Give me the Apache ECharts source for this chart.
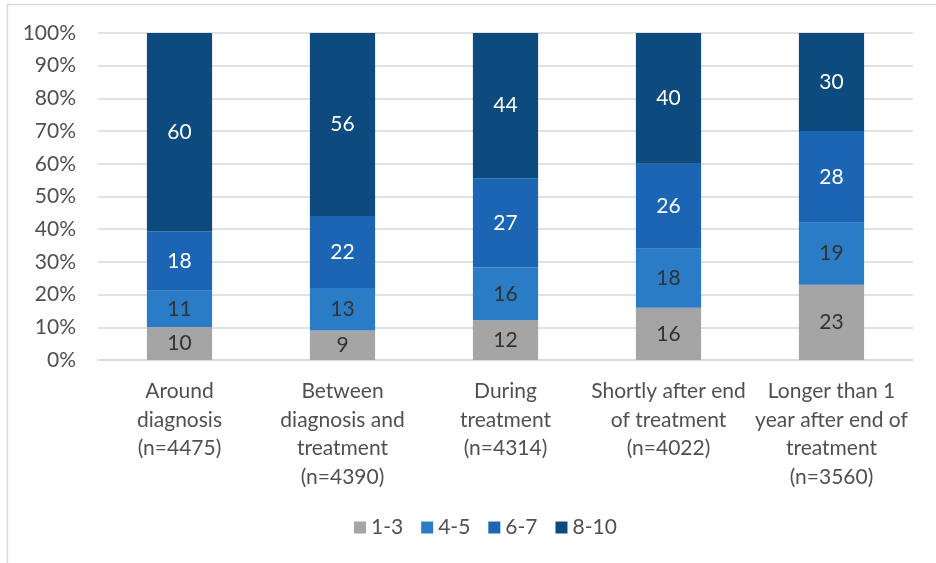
<!DOCTYPE html>
<html>
<head>
<meta charset="utf-8">
<script src="https://cdn.jsdelivr.net/npm/echarts@6/dist/echarts.min.js"></script>
<style>html,body{margin:0;padding:0;background:#fff}#c{width:936px;height:563px}</style>
</head>
<body>
<div id="c"></div>
<script>
const categories = [
  "Around\ndiagnosis\n(n=4475)",
  "Between\ndiagnosis and\ntreatment\n(n=4390)",
  "During\ntreatment\n(n=4314)",
  "Shortly after end\nof treatment\n(n=4022)",
  "Longer than 1\nyear after end of\ntreatment\n(n=3560)"
];
const seriesNames = ["1-3", "4-5", "6-7", "8-10"];
const s13 = [10, 9, 12, 16, 23];
const s45 = [11, 13, 16, 18, 19];
const s67 = [18, 22, 27, 26, 28];
const s810 = [60, 56, 44, 40, 30];
const yTicks = [0, 10, 20, 30, 40, 50, 60, 70, 80, 90, 100];

const colors = ["#A5A5A5", "#2B7CC6", "#1C64B4", "#0D4A7E"];
const labelColors = ["#333333", "#333333", "#ffffff", "#ffffff"];
const raw = [s13, s45, s67, s810];
const totals = categories.map((_, i) => raw.reduce((a, s) => a + s[i], 0));
const FONT = "Lato, 'Open Sans', sans-serif";

const chart = echarts.init(document.getElementById('c'));
chart.setOption({
  animation: false,
  textStyle: { fontFamily: FONT },
  graphic: [{
    type: 'rect', shape: { x: 7.5, y: 4.5, width: 1000, height: 700 },
    style: { fill: 'none', stroke: '#D9D9D9', lineWidth: 1.5 }, silent: true, z: -10
  }],
  grid: { left: 98, right: 23, top: 33, bottom: 203, containLabel: false },
  legend: {
    bottom: 20, left: 349, itemWidth: 12, itemHeight: 12, itemGap: 18,
    icon: 'rect',
    textStyle: { fontSize: 21, color: '#505050', fontFamily: FONT },
    data: seriesNames
  },
  xAxis: {
    type: 'category', data: categories,
    axisLine: { lineStyle: { color: '#D9D9D9', width: 1.5 } },
    axisTick: { show: false },
    axisLabel: { interval: 0, color: '#505050', fontSize: 21, lineHeight: 28.5, margin: 17, fontFamily: FONT }
  },
  yAxis: {
    type: 'value', min: 0, max: 100, interval: 10,
    axisLine: { show: false }, axisTick: { show: false },
    splitLine: { lineStyle: { color: '#D9D9D9', width: 1.5 } },
    axisLabel: {
      color: '#505050', fontSize: 21, margin: 22, fontFamily: FONT,
      formatter: v => yTicks.includes(v) ? v + '%' : ''
    }
  },
  series: raw.map((arr, k) => ({
    name: seriesNames[k], type: 'bar', stack: 'total', barWidth: '40%',
    itemStyle: { color: colors[k] },
    data: arr.map((v, i) => ({ value: v / totals[i] * 100, raw: v })),
    label: {
      show: true, position: 'inside', fontSize: 21, color: labelColors[k], fontFamily: FONT,
      formatter: p => String(arr[p.dataIndex])
    }
  }))
});
</script>
</body>
</html>
